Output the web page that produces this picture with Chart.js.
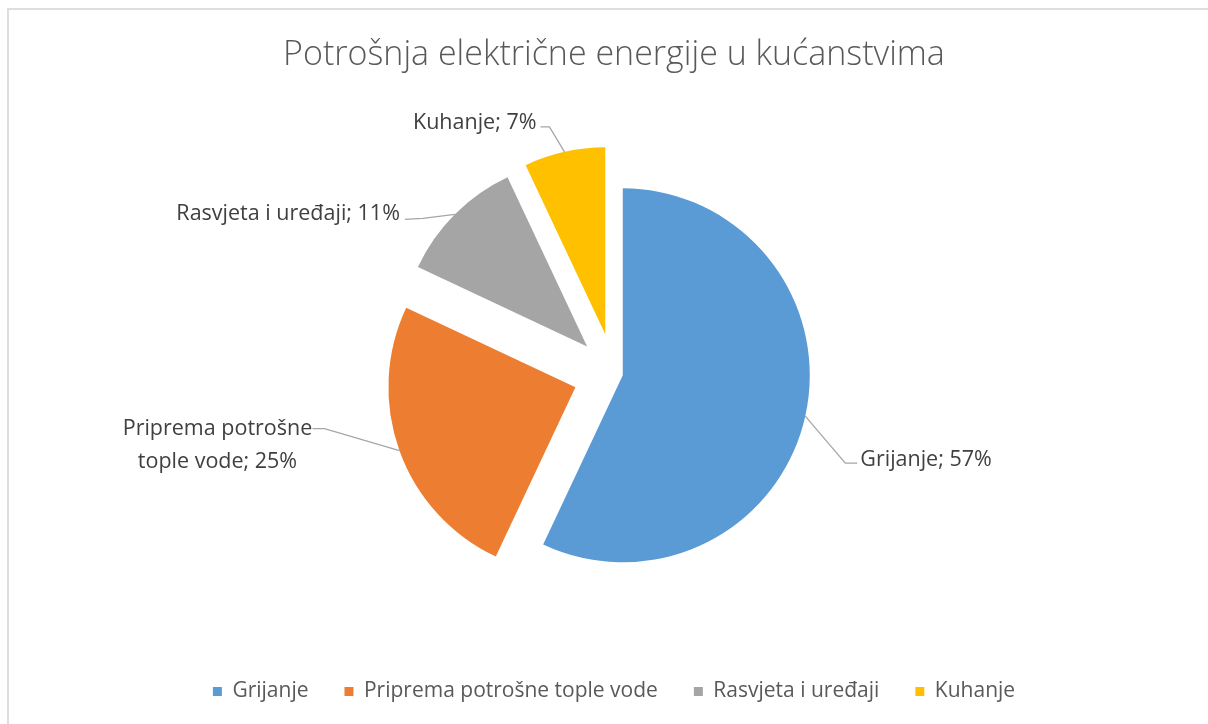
<!DOCTYPE html>
<html>
<head>
<meta charset="utf-8">
<script src="https://cdn.jsdelivr.net/npm/chart.js@4/dist/chart.umd.min.js"></script>
<style>
  html, body { margin: 0; padding: 0; background: #fff; }
  #wrap { position: relative; width: 1208px; height: 724px; overflow: hidden; }
  #frame { position: absolute; left: 7px; top: 8px; width: 1400px; height: 900px;
           border: 2px solid #dedede; pointer-events: none; }
</style>
</head>
<body>
<div id="wrap">
  <canvas id="pie"></canvas>
  <div id="frame"></div>
</div>
<script>
// ── Podaci ──────────────────────────────────────────────
const categories = ['Grijanje', 'Priprema potrošne tople vode', 'Rasvjeta i uređaji', 'Kuhanje'];
const shares     = [57, 25, 11, 7];
const colours    = ['#5b9bd5', '#ed7d31', '#a5a5a5', '#ffc000'];

// izvlačenje kriški (px) i raspored oznaka u odnosu na rub kriške
const explode = [9, 41, 38, 40];
const labelPlace = [
  { elbow: [40, 47],   end: [52, 47],   text: [55, 44],    align: 'left'   },
  { elbow: [-75, -22], end: [-87, -22], text: [-182, -22], align: 'center', wrap: 205 },
  { elbow: [-32, 4],   end: [-50, 5],   text: [-55, 0],    align: 'right'  },
  { elbow: [-15, -25], end: [-24, -25], text: [-28, -29],  align: 'right'  },
];

const FONT = '"Open Sans", "Noto Sans", sans-serif';

// pomak kriški od središta (kao "explode" u Excelu)
const explodePlugin = {
  id: 'explode',
  afterDatasetUpdate(chart, args) {
    args.meta.data.forEach((arc, i) => {
      const mid = (arc.startAngle + arc.endAngle) / 2;
      arc.x += Math.cos(mid) * (explode[i] || 0);
      arc.y += Math.sin(mid) * (explode[i] || 0);
    });
  }
};

function wrapText(ctx, text, maxW) {
  if (!maxW) return [text];
  const words = text.split(' ');
  const lines = [];
  let cur = '';
  words.forEach(w => {
    const test = cur ? cur + ' ' + w : w;
    if (cur && ctx.measureText(test).width > maxW) { lines.push(cur); cur = w; }
    else cur = test;
  });
  if (cur) lines.push(cur);
  return lines;
}

// oznake podataka s linijama vodilicama
const labelPlugin = {
  id: 'pieLabels',
  afterDatasetsDraw(chart) {
    const ctx = chart.ctx;
    const meta = chart.getDatasetMeta(0);
    ctx.save();
    ctx.font = '21.5px ' + FONT;
    ctx.textBaseline = 'middle';
    meta.data.forEach((arc, i) => {
      const p = labelPlace[i];
      const mid = (arc.startAngle + arc.endAngle) / 2;
      const ax = arc.x + Math.cos(mid) * arc.outerRadius;
      const ay = arc.y + Math.sin(mid) * arc.outerRadius;

      ctx.strokeStyle = '#a6a6a6';
      ctx.lineWidth = 1.3;
      ctx.beginPath();
      ctx.moveTo(ax, ay);
      ctx.lineTo(ax + p.elbow[0], ay + p.elbow[1]);
      ctx.lineTo(ax + p.end[0], ay + p.end[1]);
      ctx.stroke();

      ctx.fillStyle = '#404040';
      ctx.textAlign = p.align;
      const lines = wrapText(ctx, `${categories[i]}; ${shares[i]}%`, p.wrap);
      lines.forEach((ln, k) => ctx.fillText(ln, ax + p.text[0], ay + p.text[1] + k * 33));
    });
    ctx.restore();
  }
};

new Chart(document.getElementById('pie'), {
  type: 'pie',
  data: {
    labels: categories,
    datasets: [{ data: shares, backgroundColor: colours, borderWidth: 0, hoverOffset: 0 }]
  },
  options: {
    responsive: true, maintainAspectRatio: false, animation: false,
    radius: 187,
    layout: { padding: { left: 20, right: 0, top: 0, bottom: 12 } },
    plugins: {
      title: {
        display: true,
        text: 'Potrošnja električne energije u kućanstvima',
        color: '#595959',
        font: { family: FONT, size: 34, weight: '300' },
        padding: { top: 35, bottom: 26 }
      },
      legend: {
        position: 'bottom',
        labels: { color: '#595959', font: { family: FONT, size: 21 }, boxWidth: 9, boxHeight: 9, padding: 36 }
      },
      tooltip: { enabled: false }
    }
  },
  plugins: [explodePlugin, labelPlugin]
});
</script>
</body>
</html>
